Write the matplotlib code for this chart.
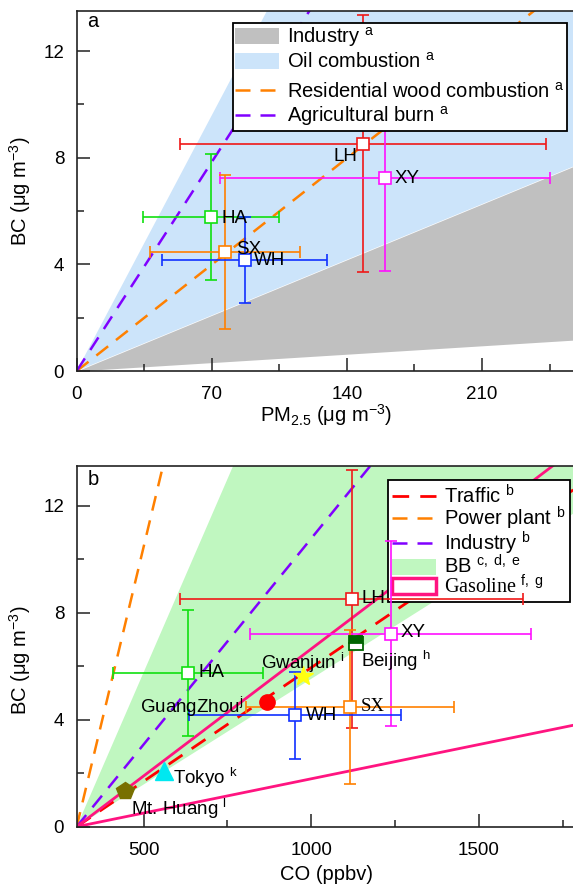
import numpy as np
import matplotlib
matplotlib.use('Agg')
import matplotlib.pyplot as plt
from matplotlib.lines import Line2D
from matplotlib.patches import Patch
from matplotlib.legend_handler import HandlerBase
from matplotlib.ticker import MultipleLocator

plt.rcParams['font.family'] = ['Liberation Sans', 'DejaVu Sans']
plt.rcParams['mathtext.fontset'] = 'custom'
plt.rcParams['mathtext.rm'] = 'Liberation Sans'
plt.rcParams['mathtext.it'] = 'Liberation Sans:italic'
plt.rcParams['mathtext.bf'] = 'Liberation Sans:bold'

# observation sites
site = ['LH', 'XY', 'HA', 'SX', 'WH']
site_color = ['#f01818', '#ff10ff', '#10e010', '#ff8000', '#1030ff']
pm25 = [148.4, 159.9, 69.8, 77.0, 87.0]
pm25_err = [95.0, 85.5, 35.2, 38.8, 42.6]
bc = [8.52, 7.22, 5.76, 4.47, 4.16]
bc_err = [4.82, 3.46, 2.36, 2.88, 1.62]
co = [1121, 1237, 632, 1115, 951]
co_err = [512, 419, 224, 310, 317]

# BC/PM2.5 source ratios
industry_pm = [0.0045, 0.0298]
oil_pm = 0.137
wood_pm = 0.057
agri_pm = 0.112

# BC/CO source ratios (ug m-3 per ppbv above background)
co_bg = 300
traffic_co = 0.0085
power_co = 0.0524
industry_co = 0.0154
bb_co = [0.0079, 0.0289]
gasoline_co = [0.00256, 0.0095]

# other studies
ref_site = ['Beijing', 'Gwanjun', 'GuangZhou', 'Tokyo', 'Mt. Huang']
ref_co = [1132, 975, 868, 561, 445]
ref_bc = [6.88, 5.63, 4.67, 2.08, 1.35]

fig = plt.figure(figsize=(5.73, 8.88), dpi=100)
W, H = 573.0, 888.0
ax1 = fig.add_axes([76.7 / W, 1 - 371 / H, (576 - 76.7) / W, 360 / H])
ax2 = fig.add_axes([76.7 / W, 1 - 826.7 / H, (576 - 76.7) / W, 361 / H])

fs = 13.5      # ticks and point labels
fl = 14.5      # legend and axis titles
dash = (6, 4)


class Spacer(HandlerBase):
    # thin empty row in the legend
    def legend_artist(self, legend, orig_handle, fontsize, handlebox):
        handlebox.height = 0
        a = Line2D([], [], color='none')
        handlebox.add_artist(a)
        return a


def style_axis(ax):
    for s in ['left', 'bottom', 'top']:
        ax.spines[s].set_linewidth(1.2)
        ax.spines[s].set_color('#222222')
    ax.spines['right'].set_visible(False)
    ax.tick_params(which='both', direction='in', top=False, right=False,
                   labelsize=fs, width=1.1, color='#222222')
    ax.tick_params(which='major', length=9.5)
    ax.tick_params(which='minor', length=5)
    ax.tick_params(axis='x', pad=11)
    ax.tick_params(axis='y', pad=9)


# ---- panel a: BC vs PM2.5
xa = np.array([0, 258.7])
ax1.fill_between(xa, industry_pm[1] * xa, oil_pm * xa, color='#cce4fa', lw=0, zorder=1)
ax1.fill_between(xa, industry_pm[0] * xa, industry_pm[1] * xa, color='#c0c0c0', lw=0, zorder=1)
ax1.plot(xa, wood_pm * xa, color='#ff8000', lw=1.8, dashes=dash, zorder=2)
ax1.plot(xa, agri_pm * xa, color='#8000ff', lw=1.8, dashes=dash, zorder=2)

for i in range(len(site)):
    ax1.errorbar(pm25[i], bc[i], xerr=pm25_err[i], yerr=bc_err[i], fmt='s',
                 color=site_color[i], mfc='white', mec=site_color[i], ms=8, mew=1.2,
                 elinewidth=1.2, capsize=4.5, capthick=1.2, zorder=3)

lab_a = [(132.9, 8.04), (164.9, 7.22), (75.1, 5.72), (82.5, 4.54), (92.0, 4.16)]
for s, (x, y) in zip(site, lab_a):
    ax1.text(x, y, s, fontsize=fs, ha='left', va='center', zorder=4)

ax1.set_xlim(0, 258.7)
ax1.set_ylim(0, 13.5)
ax1.set_xticks([0, 70, 140, 210])
ax1.set_yticks([0, 4, 8, 12])
ax1.xaxis.set_minor_locator(MultipleLocator(35))
ax1.yaxis.set_minor_locator(MultipleLocator(2))
style_axis(ax1)
ax1.set_xlabel('PM$_{2.5}$ (\u03bcg m$^{-3}$)', fontsize=fl)
ax1.set_ylabel('BC (\u03bcg m$^{-3}$)', fontsize=fl)
ax1.xaxis.set_label_coords(0.5, -0.085)
ax1.yaxis.set_label_coords(-0.087, 0.5)
ax1.text(0.033, 0.97, 'a', transform=ax1.transAxes, fontsize=fl, ha='center', va='center')

spacer = Line2D([], [], color='none')
h_a = [Patch(facecolor='#c0c0c0', edgecolor='none'),
       Patch(facecolor='#cce4fa', edgecolor='none'),
       spacer,
       Line2D([], [], color='#ff8000', lw=1.8, dashes=dash),
       Line2D([], [], color='#8000ff', lw=1.8, dashes=dash)]
l_a = ['Industry $^{\\mathrm{a}}$', 'Oil combustion $^{\\mathrm{a}}$', '',
       'Residential wood combustion $^{\\mathrm{a}}$', 'Agricultural burn $^{\\mathrm{a}}$']
leg1 = ax1.legend(h_a, l_a, loc='upper left', bbox_to_anchor=(0.3124, 0.9675),
                  borderaxespad=0, fontsize=fl, frameon=True, fancybox=False,
                  framealpha=1, edgecolor='black', handlelength=2.2, handleheight=0.85,
                  handletextpad=0.4, labelspacing=0.14, borderpad=0.12,
                  handler_map={spacer: Spacer()})
leg1.get_frame().set_linewidth(1.3)
leg1.get_texts()[2].set_fontsize(3)
leg1.set_zorder(6)

# ---- panel b: BC vs CO
xb = np.array([co_bg, 1790])
dx = xb - co_bg
ax2.fill_between(xb, bb_co[0] * dx, bb_co[1] * dx, color='#c0f7c0', lw=0, zorder=1)
ax2.plot(xb, power_co * dx, color='#ff8000', lw=1.8, dashes=dash, zorder=2)
ax2.plot(xb, industry_co * dx, color='#8000ff', lw=1.8, dashes=dash, zorder=2)
ax2.plot(xb, traffic_co * dx, color='#ff0000', lw=2.0, dashes=dash, zorder=2)
ax2.plot(xb, gasoline_co[0] * dx, color='#ff1480', lw=2.0, zorder=2)
ax2.plot(xb, gasoline_co[1] * dx, color='#ff1480', lw=2.0, zorder=2)

for i in range(len(site)):
    ax2.errorbar(co[i], bc[i], xerr=co_err[i], yerr=bc_err[i], fmt='s',
                 color=site_color[i], mfc='white', mec=site_color[i], ms=8, mew=1.2,
                 elinewidth=1.2, capsize=4.5, capthick=1.2, zorder=4)

ax2.plot(ref_co[0], ref_bc[0], 's', ms=10, mfc='#006400', mfcalt='white',
         fillstyle='top', mec='#006400', mew=1.3, zorder=5)
ax2.plot(ref_co[1], ref_bc[1], '*', ms=15, color='#ffff10', mec='#ffff10', zorder=5)
ax2.plot(ref_co[2], ref_bc[2], 'o', ms=11, color='#ff0000', zorder=5)
ax2.plot(ref_co[3], ref_bc[3], '^', ms=13, color='#00e8f0', zorder=5)
ax2.plot(ref_co[4], ref_bc[4], 'p', ms=13, color='#787000', zorder=5)

lab_b = [(1150, 8.54), (1267, 7.25), (663, 5.77), (1149, 4.49), (984, 4.14)]
for s, (x, y) in zip(site, lab_b):
    fam = ['Liberation Serif'] if s == 'SX' else None
    ax2.text(x, y, s, fontsize=fs, ha='left', va='center', zorder=6, family=fam)

ax2.text(850, 6.13, 'Gwanjun $^{\\mathrm{i}}$', fontsize=fs, ha='left', va='center', zorder=6)
ax2.text(1149, 6.21, 'Beijing $^{\\mathrm{h}}$', fontsize=fs, ha='left', va='center', zorder=6)
ax2.text(489, 4.49, 'GuangZhou$^{\\mathrm{j}}$', fontsize=fs, ha='left', va='center', zorder=6)
ax2.text(588, 1.81, 'Tokyo $^{\\mathrm{k}}$', fontsize=fs, ha='left', va='center', zorder=6)
ax2.text(462, 0.65, 'Mt. Huang $^{\\mathrm{l}}$', fontsize=fs, ha='left', va='center', zorder=6)

ax2.set_xlim(co_bg, 1790)
ax2.set_ylim(0, 13.5)
ax2.set_xticks([500, 1000, 1500])
ax2.set_yticks([0, 4, 8, 12])
ax2.xaxis.set_minor_locator(MultipleLocator(250))
ax2.yaxis.set_minor_locator(MultipleLocator(2))
style_axis(ax2)
ax2.set_xlabel('CO (ppbv)', fontsize=fl)
ax2.set_ylabel('BC (\u03bcg m$^{-3}$)', fontsize=fl)
ax2.xaxis.set_label_coords(0.5, -0.107)
ax2.yaxis.set_label_coords(-0.087, 0.46)
ax2.text(0.033, 0.962, 'b', transform=ax2.transAxes, fontsize=fl, ha='center', va='center')

h_b = [Line2D([], [], color='#ff0000', lw=2.0, dashes=dash),
       Line2D([], [], color='#ff8000', lw=1.8, dashes=dash),
       Line2D([], [], color='#8000ff', lw=1.8, dashes=dash),
       Patch(facecolor='#c0f7c0', edgecolor='none'),
       Patch(facecolor='white', edgecolor='#ff1480', lw=2.5)]
l_b = ['Traffic $^{\\mathrm{b}}$', 'Power plant $^{\\mathrm{b}}$', 'Industry $^{\\mathrm{b}}$',
       'BB $^{\\mathrm{c,\\ d,\\ e}}$', 'Gasoline $^{\\mathrm{f,\\ g}}$']
leg2 = ax2.legend(h_b, l_b, loc='upper left', bbox_to_anchor=(0.623, 0.9604),
                  borderaxespad=0, fontsize=fl, frameon=True, fancybox=False,
                  framealpha=1, edgecolor='black', handlelength=2.2, handleheight=0.85,
                  handletextpad=0.4, labelspacing=-0.12, borderpad=0.2)
leg2.get_frame().set_linewidth(1.3)
leg2.get_texts()[4].set_family(['Liberation Serif'])
leg2.set_zorder(3)

fig.savefig('out.png', dpi=100)
